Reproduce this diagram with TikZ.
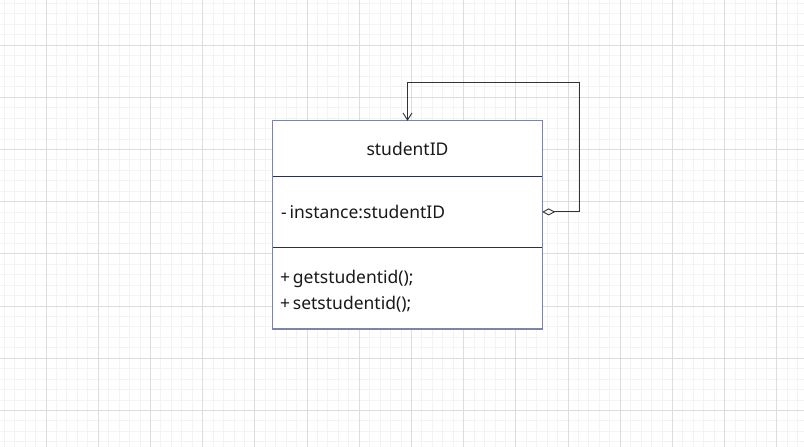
\documentclass[tikz,border=0pt]{standalone}
\usepackage{fontspec}
\setmainfont{Noto Sans}
\usetikzlibrary{positioning,arrows.meta}

\definecolor{gridminor}{HTML}{F3F3F3}
\definecolor{gridmajor}{HTML}{DDDDDD}
\definecolor{boxline}{HTML}{7F84A6}
\definecolor{divline}{HTML}{2B2F58}
\definecolor{linkline}{HTML}{333333}

\begin{document}
\begin{tikzpicture}[
            x=1pt, y=-1pt,
            compartment/.style={rectangle, inner sep=0pt, minimum width=269pt, text=black!90, font=\fontsize{17.5}{26}\selectfont},
            outline/.style={draw=boxline, line width=1.3pt},
            divider/.style={draw=divline, line width=1pt},
            selfref/.style={draw=linkline, line width=0.9pt, {Diamond[open,length=13pt,width=7pt]}-{Straight Barb[length=7pt,width=9pt]}}
            ]

            \useasboundingbox (0,0) rectangle (804,447);
            \fill[white] (0,0) rectangle (804,447);

            % Background grid
            \foreach \i in {0,...,78} {
                \draw[gridminor, line width=0.8pt] ({-6.2+10.44*\i},0) -- ({-6.2+10.44*\i},447);
            }
            \foreach \i in {0,...,43} {
                \draw[gridminor, line width=0.8pt] (0,{-7.2+10.44*\i}) -- (804,{-7.2+10.44*\i});
            }
            \foreach \i in {0,...,15} {
                \draw[gridmajor, line width=0.8pt] ({-6.2+52.2*\i},0) -- ({-6.2+52.2*\i},447);
            }
            \foreach \i in {0,...,9} {
                \draw[gridmajor, line width=0.8pt] (0,{-7.2+52.2*\i}) -- (804,{-7.2+52.2*\i});
            }

            % Class compartments
            \node[compartment, minimum height=55pt, fill=white] (title) at (407.5,148.5) {studentID};
            \node[compartment, minimum height=71pt, fill=white, below=0pt of title] (attr) {};
            \node[compartment, minimum height=81pt, fill=white, below=0pt of attr] (ops) {};

            \node[compartment, minimum width=0pt, anchor=west] (attrtext) at ([xshift=8pt]attr.west) {-\,instance:studentID};
            \node[compartment, minimum width=0pt, anchor=west, align=left] (opstext) at ([xshift=7pt,yshift=-3pt]ops.west) {+\,getstudentid();\\+\,setstudentid();};

            \draw[divider] (title.south west) -- (title.south east);
            \draw[divider] (attr.south west) -- (attr.south east);
            \draw[outline] (title.north west) rectangle (ops.south east);

            % Self association
            \coordinate (loop) at (579,82);
            \draw[selfref] (attr.east) -| (loop) -| (title.north);

        \end{tikzpicture}
\end{document}
